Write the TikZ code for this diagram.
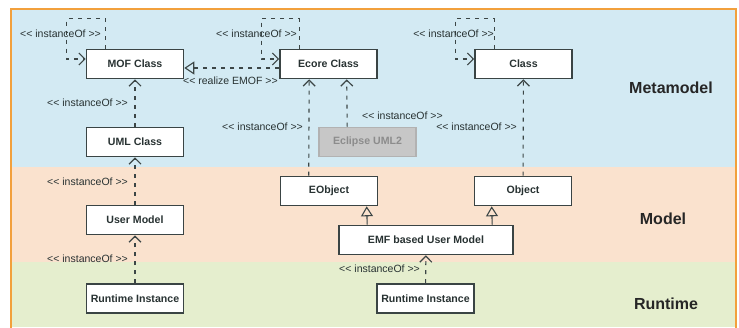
\documentclass[tikz,border=0pt]{standalone}
\usepackage{fontspec}
\setmainfont{Liberation Sans}[Ligatures=TeXOff]
\usetikzlibrary{arrows.meta}
\definecolor{bandblue}{RGB}{211,234,243}
\definecolor{bandpeach}{RGB}{250,226,206}
\definecolor{bandgreen}{RGB}{229,238,206}
\definecolor{frameorange}{RGB}{242,160,60}
\definecolor{boxline}{RGB}{58,68,68}
\definecolor{lineclr}{RGB}{60,70,70}
\definecolor{txt}{RGB}{40,50,50}
\tikzset{
  box/.style={draw=boxline, line width=1.6pt, fill=white, text=txt,
    font=\bfseries\fontsize{10.6}{12}\selectfont, minimum width=97pt,
    minimum height=29pt, inner sep=0pt},
  graybox/.style={box, draw=black!30, fill=black!22, text=black!45},
  dep/.style={draw=lineclr, line width=1.1pt, dash pattern=on 4pt off 5pt,
    -{Straight Barb[length=6pt,width=12pt,line width=1.2pt]}},
  gen/.style={draw=lineclr, line width=1.1pt,
    -{Triangle[open,length=10pt,width=12pt,line width=1.1pt]}},
  realize/.style={draw=lineclr, line width=1.1pt, dash pattern=on 4pt off 5pt,
    -{Triangle[open,length=10pt,width=13pt,line width=1.1pt]}},
  lbl/.style={text=txt, font=\fontsize{10.5}{12}\selectfont, inner sep=0pt},
  band/.style={text=black!85, font=\bfseries\fontsize{16}{18}\selectfont}
}
\begin{document}
\begin{tikzpicture}[x=1pt,y=-1pt]
\useasboundingbox (0,0) rectangle (739,327);
% bands
\fill[bandblue] (11,9) rectangle (736,167);
\fill[bandpeach] (11,167) rectangle (736,262);
\fill[bandgreen] (11,262) rectangle (736,327);
\draw[frameorange, line width=2pt] (11,330) -- (11,9) -- (736,9) -- (736,330);
% band labels
\node[band] (lmeta) at (671,88) {Metamodel};
\node[band] (lmodel) at (663,219) {Model};
\node[band] (lrun) at (666,304) {Runtime};
% boxes
\node[box] (mof) at (135,64) {MOF Class};
\node[box] (uml) at (135,142) {UML Class};
\node[box] (ecore) at (328.5,64) {Ecore Class};
\node[box] (cls) at (523.5,64) {Class};
\node[graybox] (eclipse) at (367.5,142) {Eclipse UML2};
\node[box] (eobj) at (329,191) {EObject};
\node[box] (obj) at (523,191) {Object};
\node[box, minimum width=174pt] (emf) at (426,240) {EMF based User Model};
\node[box] (user) at (135,220) {User Model};
\node[box] (rt1) at (135,298.5) {Runtime Instance};
\node[box] (rt2) at (425.5,298.5) {Runtime Instance};
% self loops
\draw[dep] ([xshift=20pt]mof.north west) |- ++(-39pt,30pt) |- ([yshift=5pt]mof.west);
\draw[dep] ([xshift=20pt]ecore.north west) |- ++(-38pt,30pt) |- ([yshift=5pt]ecore.west);
\draw[dep] ([xshift=20pt]cls.north west) |- ++(-39pt,30pt) |- ([yshift=5pt]cls.west);
\node[lbl, anchor=east] (l1) at (101,34) {<< instanceOf >>};
\node[lbl, anchor=east] (l2) at (297,34) {<< instanceOf >>};
\node[lbl, anchor=east] (l3) at (494,34) {<< instanceOf >>};
% vertical instanceOf
\draw[dep] (uml) -- (mof);
\draw[dep] (user) -- (uml);
\draw[dep] (rt1) -- (user);
\node[lbl, anchor=east] (l4) at (128,103) {<< instanceOf >>};
\node[lbl, anchor=east] (l5) at (128,182) {<< instanceOf >>};
\node[lbl, anchor=east] (l6) at (128,259) {<< instanceOf >>};
\draw[dep] ([xshift=29pt]eobj.north west) -- ([xshift=30pt]ecore.south west);
\node[lbl, anchor=east] (l7) at (303,127) {<< instanceOf >>};
\draw[dep] ([xshift=29pt]eclipse.north west) -- ([xshift=67.5pt]ecore.south west);
\node[lbl, anchor=west] (l8) at (362,116) {<< instanceOf >>};
\draw[dep] (obj) -- (cls);
\node[lbl, anchor=east] (l9) at (517,127) {<< instanceOf >>};
\draw[dep] (rt2) -- (emf);
\node[lbl, anchor=east] (l10) at (420,269) {<< instanceOf >>};
% realize
\draw[realize] ([yshift=-4pt]ecore.west) -- ([yshift=-4pt]mof.east);
\node[lbl, anchor=west] (l11) at (183,81) {<< realize EMOF >>};
% generalization
\draw[gen] ([xshift=29pt]emf.north west) -- ([xshift=87pt]eobj.south west);
\draw[gen] ([xshift=154pt]emf.north west) -- ([xshift=18pt]obj.south west);
\end{tikzpicture}
\end{document}
